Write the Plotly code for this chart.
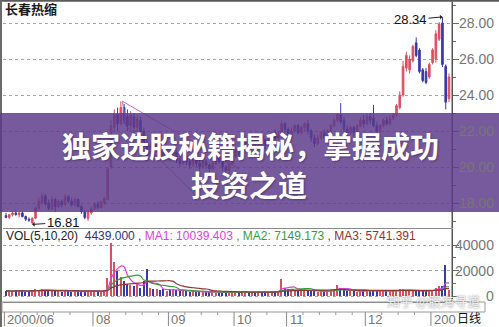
import numpy as np
import pandas as pd
import plotly.graph_objects as go

# ---- daily bars of 长春热缩 (2000/06 - 2001/01) ----
opens = [17.30, 17.20, 17.35, 17.45, 17.35, 17.45, 17.25, 17.10, 16.90, 17.15,
         17.70, 18.00, 18.40, 18.00, 17.70, 18.20, 17.80, 18.10, 17.90, 18.35,
         18.10, 17.90, 18.20, 17.80, 17.50, 17.15, 17.45, 17.70, 17.95, 17.75,
         18.00, 18.20, 20.00, 22.20, 22.90, 22.40, 23.30, 22.80, 22.30, 22.80,
         22.20, 22.60, 22.00, 21.30, 20.70, 21.20, 20.90, 21.30, 21.00, 20.60,
         20.90, 20.50, 20.80, 20.40, 20.20, 20.60, 20.30, 20.10, 20.40, 20.20,
         20.00, 20.30, 20.10, 19.90, 20.20, 20.50, 20.30, 20.00, 19.80, 20.20,
         20.60, 20.90, 20.70, 21.10, 21.40, 21.10, 21.50, 21.30, 21.70, 21.50,
         21.20, 21.60, 21.90, 21.60, 21.80, 22.40, 22.10, 21.70, 22.00, 22.30,
         21.90, 22.20, 22.40, 22.00, 21.60, 21.30, 21.60, 21.90, 21.60, 22.00,
         22.30, 22.60, 22.90, 22.60, 22.10, 21.90, 22.20, 21.90, 22.30, 22.60,
         22.40, 22.80, 22.70, 22.30, 22.00, 22.30, 22.60, 22.40, 22.70, 22.90,
         23.30, 24.00, 25.50, 25.40, 25.90, 26.90, 26.50, 25.40, 25.30, 25.00,
         25.80, 26.00, 27.10, 28.00, 25.60, 23.80]
highs = [17.45, 17.40, 17.55, 17.60, 17.50, 17.55, 17.30, 17.20, 17.20, 17.80,
         18.30, 18.55, 18.50, 18.20, 18.40, 18.30, 18.20, 18.20, 18.50, 18.45,
         18.30, 18.30, 18.25, 17.90, 17.60, 17.60, 17.80, 18.05, 18.10, 18.15,
         18.35, 20.00, 22.60, 23.20, 23.30, 23.65, 23.50, 23.20, 23.10, 23.00,
         22.90, 22.80, 22.20, 21.50, 21.40, 21.50, 21.60, 21.40, 21.10, 21.10,
         21.00, 21.00, 20.90, 20.60, 20.80, 20.70, 20.50, 20.60, 20.50, 20.40,
         20.50, 20.40, 20.20, 20.40, 20.60, 20.70, 20.40, 20.10, 20.30, 20.80,
         21.00, 21.10, 21.20, 21.60, 21.50, 21.70, 21.80, 21.90, 21.90, 21.60,
         21.80, 22.00, 22.10, 22.00, 22.60, 22.50, 22.20, 22.20, 22.40, 22.40,
         22.30, 22.50, 22.60, 22.10, 21.80, 21.80, 22.00, 22.10, 22.10, 22.40,
         22.70, 23.00, 23.55, 22.80, 22.30, 22.30, 22.30, 22.40, 22.80, 22.90,
         23.00, 23.00, 23.45, 22.50, 22.40, 22.70, 22.80, 22.90, 23.00, 23.50,
         24.20, 25.90, 26.40, 26.20, 26.80, 27.20, 26.60, 25.50, 25.50, 25.80,
         26.60, 27.60, 28.05, 28.34, 25.70, 25.20]
lows = [17.15, 17.10, 17.25, 17.30, 17.20, 17.20, 17.00, 16.95, 16.81, 17.10,
        17.60, 17.90, 17.85, 17.60, 17.60, 17.50, 17.70, 17.75, 17.85, 18.00,
        17.80, 17.80, 17.75, 17.40, 17.10, 17.00, 17.35, 17.60, 17.65, 17.70,
        17.90, 18.15, 19.90, 21.90, 22.00, 22.30, 22.40, 22.00, 22.10, 21.90,
        22.00, 21.80, 21.10, 20.30, 20.50, 20.70, 20.80, 20.80, 20.40, 20.50,
        20.30, 20.40, 20.20, 20.00, 20.10, 20.10, 19.90, 20.00, 20.00, 19.80,
        19.90, 19.90, 19.70, 19.80, 20.10, 20.20, 19.80, 19.60, 19.60, 20.10,
        20.50, 20.50, 20.60, 21.00, 20.90, 21.00, 21.20, 21.20, 21.30, 21.00,
        21.10, 21.50, 21.50, 21.50, 21.70, 21.90, 21.50, 21.60, 21.90, 21.80,
        21.80, 22.00, 21.80, 21.40, 21.10, 21.20, 21.50, 21.40, 21.50, 21.90,
        22.20, 22.50, 22.40, 21.90, 21.70, 21.80, 21.70, 21.80, 22.20, 22.20,
        22.30, 22.40, 22.20, 21.90, 21.90, 22.20, 22.30, 22.30, 22.60, 22.80,
        23.20, 23.90, 25.30, 25.20, 25.80, 26.10, 25.20, 24.70, 24.60, 24.90,
        25.70, 25.80, 27.00, 25.55, 23.20, 23.60]
closes = [17.20, 17.35, 17.45, 17.35, 17.45, 17.25, 17.10, 17.05, 17.15, 17.70,
          18.10, 18.40, 17.95, 17.70, 18.20, 17.80, 18.10, 17.90, 18.35, 18.10,
          17.90, 18.20, 17.80, 17.50, 17.20, 17.50, 17.70, 17.95, 17.75, 18.05,
          18.25, 19.90, 22.30, 22.90, 22.40, 23.30, 22.60, 22.30, 22.90, 22.20,
          22.70, 22.00, 21.30, 20.60, 21.20, 20.90, 21.30, 21.00, 20.60, 20.90,
          20.50, 20.80, 20.40, 20.20, 20.60, 20.30, 20.10, 20.40, 20.20, 20.00,
          20.30, 20.10, 19.90, 20.20, 20.50, 20.30, 20.00, 19.80, 20.20, 20.60,
          20.90, 20.70, 21.10, 21.40, 21.10, 21.50, 21.30, 21.70, 21.50, 21.20,
          21.60, 21.90, 21.60, 21.80, 22.40, 22.10, 21.70, 22.00, 22.30, 21.90,
          22.20, 22.40, 22.00, 21.60, 21.30, 21.60, 21.90, 21.60, 22.00, 22.30,
          22.60, 22.90, 22.50, 22.10, 21.90, 22.20, 21.90, 22.30, 22.60, 22.40,
          22.80, 22.60, 22.30, 22.00, 22.30, 22.60, 22.40, 22.70, 22.90, 23.40,
          24.00, 25.60, 26.20, 26.00, 26.70, 26.20, 25.30, 24.80, 24.70, 25.70,
          26.50, 27.40, 27.95, 25.70, 23.60, 25.00]
volumes = [3800, 4200, 3500, 4600, 3900, 4100, 3300, 3600, 4800, 5200,
           4700, 5600, 4300, 3900, 4500, 3700, 4100, 3500, 4800, 3600,
           3300, 3900, 3400, 3100, 3700, 4200, 3800, 3500, 3200, 3600,
           4800, 14500, 41500, 27000, 19500, 15000, 11500, 9500, 8500, 7500,
           9500, 6500, 11500, 21000, 6000, 5200, 5800, 4800, 5500, 4200,
           4600, 5200, 4500, 3800, 4200, 3600, 3300, 3900, 3100, 2900,
           3400, 3000, 2800, 3200, 2700, 3100, 2600, 2900, 3300, 3600,
           3000, 2800, 3100, 3500, 2900, 2700, 3200, 3400, 3000, 3300,
           2800, 3600, 3900, 4200, 13000, 6500, 5200, 5800, 4600, 5000,
           4200, 4800, 3900, 3600, 4100, 3400, 3800, 3500, 4300, 4700,
           5200, 8500, 6200, 4800, 4100, 3700, 3900, 3400, 4200, 3800,
           4400, 4000, 4900, 3600, 3900, 4500, 3800, 3600, 4100, 4300,
           5200, 5600, 4700, 4200, 3900, 3936.09, 4200, 3900, 4500, 4100,
           4594.715, 6500, 7500, 7758.015, 24000, 4439]

# first bar index of each month and its label on the date strip
# (the last label is cut short by the period caption)
month_starts = [0, 27, 50, 70, 86, 110, 130]
month_labels = ["2000/06", "08", "09", "10", "11", "12", "200"]

price_ticks = [18, 20, 22, 24, 26, 28]
volume_ticks = [0, 20000, 40000]
ma_windows = [5, 10, 20]

# hand-drawn trend channel after the August breakout (bar index, price)
trend_upper_x = [35.5, 71.0]
trend_upper_y = [23.65, 19.90]
trend_lower_x = [35.5, 36.5, 58.0]
trend_lower_y = [23.65, 22.30, 18.40]

banner_lines = ["独家选股秘籍揭秘，掌握成功", "投资之道"]
stock_name = "长春热缩"

# ---- page geometry (pixels) ----
W, H = 499, 327
ML, MR, MT, MB = 3, 47, 2, 25
PW, PH = W - ML - MR, H - MT - MB


def px(x):
    return (x - ML) / PW


def py(y):
    return (H - MB - y) / PH


RED = "#dc4f60"
BLUE = "#3a3aa6"
MA_COLORS = ["#e040e0", "#3c9a3c", "#8b3535"]
GRID = "#a6a6a6"
AX = "#6a6a6a"
LBL = "#767676"

idx = np.arange(len(closes))
is_up = np.array(closes) >= np.array(opens)
vol = pd.Series(volumes, dtype=float)
mas = [vol.rolling(w, min_periods=1).mean() for w in ma_windows]

fig = go.Figure()

fig.add_trace(go.Candlestick(
    x=idx, open=opens, high=highs, low=lows, close=closes,
    increasing=dict(line=dict(color=RED, width=1), fillcolor=RED),
    decreasing=dict(line=dict(color=BLUE, width=1), fillcolor=BLUE),
    whiskerwidth=0, hoverinfo="skip", xaxis="x", yaxis="y", showlegend=False))

for tx, ty in ((trend_upper_x, trend_upper_y), (trend_lower_x, trend_lower_y)):
    fig.add_trace(go.Scatter(x=tx, y=ty, mode="lines", xaxis="x", yaxis="y",
                             line=dict(color="#cc5fc8", width=1),
                             hoverinfo="skip", showlegend=False))

fig.add_trace(go.Bar(
    x=idx, y=volumes, width=0.45, xaxis="x", yaxis="y2",
    marker=dict(color=[RED if u else BLUE for u in is_up], line=dict(width=0)),
    hoverinfo="skip", showlegend=False))

for ma, col in zip(mas, MA_COLORS):
    fig.add_trace(go.Scatter(x=idx, y=ma, mode="lines", xaxis="x", yaxis="y2",
                             line=dict(color=col, width=1.2, shape="spline"),
                             hoverinfo="skip", showlegend=False))

pad = 3 / 3.2815
fig.update_layout(
    width=W, height=H, autosize=False,
    margin=dict(l=ML, r=MR, t=MT, b=MB, pad=0),
    paper_bgcolor="white", plot_bgcolor="white",
    bargap=0, showlegend=False,
    xaxis=dict(domain=[0, 1], range=[-pad, len(closes) - 1 + pad], anchor="y2",
               showgrid=False, zeroline=False, showticklabels=False, ticks="",
               showline=True, linecolor="#7a7a7a", linewidth=1,
               rangeslider=dict(visible=False), fixedrange=True),
    yaxis=dict(domain=[py(228), 1], range=[16.611, 29.167], anchor="x",
               side="right", tickmode="array", tickvals=price_ticks,
               ticks="outside", ticklen=6, tickcolor=AX, showticklabels=False,
               showgrid=True, gridcolor=GRID, griddash="dot", gridwidth=1,
               zeroline=False, showline=True, linecolor="#555", linewidth=1,
               minor=dict(tickvals=[t + 1 for t in price_ticks[:-1]] + [17, 29],
                          ticks="outside", ticklen=3, tickcolor=AX, showgrid=False),
               fixedrange=True),
    yaxis2=dict(domain=[0, py(229)], range=[-4706, 52549], anchor="x",
                side="right", tickmode="array", tickvals=volume_ticks,
                ticks="outside", ticklen=6, tickcolor=AX, showticklabels=False,
                showgrid=True, gridcolor=GRID, griddash="dot", gridwidth=1,
                zeroline=False, showline=True, linecolor="#555", linewidth=1,
                minor=dict(tickvals=[10000, 30000], ticks="outside", ticklen=3,
                           tickcolor=AX, showgrid=False),
                fixedrange=True),
)

shapes = []
# window frame: dark top and left edges, right axis rule, panel divider
shapes.append(dict(type="line", xref="paper", yref="paper", x0=px(0), x1=px(W),
                   y0=py(0.8), y1=py(0.8), line=dict(color="#5a5a5a", width=2)))
shapes.append(dict(type="line", xref="paper", yref="paper", x0=px(1), x1=px(1),
                   y0=py(0), y1=py(H), line=dict(color="#6a6a6a", width=2)))
shapes.append(dict(type="line", xref="paper", yref="paper", x0=1, x1=1,
                   y0=py(0), y1=0, line=dict(color="#555", width=1)))
shapes.append(dict(type="line", xref="paper", yref="paper", x0=0, x1=1,
                   y0=py(228.5), y1=py(228.5), line=dict(color="#8a8a8a", width=1)))
# date strip box
shapes.append(dict(type="rect", xref="paper", yref="paper", x0=px(2), x1=px(485),
                   y0=py(312), y1=py(302), line=dict(color="#9a9a9a", width=1)))
# month ticks and weekly minor ticks on the date strip
n = len(closes)
for k, ms in enumerate(month_starts):
    shapes.append(dict(type="line", xref="x", yref="paper", x0=ms - 0.5, x1=ms - 0.5,
                       y0=py(326), y1=py(312), line=dict(color="#888", width=1)))
    nxt = month_starts[k + 1] if k + 1 < len(month_starts) else n
    for m in range(ms + 5, nxt - 2, 5):
        shapes.append(dict(type="line", xref="x", yref="paper", x0=m - 0.5, x1=m - 0.5,
                           y0=py(315), y1=py(312), line=dict(color="#999", width=1)))
# translucent headline banner across the chart
shapes.append(dict(type="rect", xref="paper", yref="paper", x0=px(0), x1=px(W),
                   y0=py(212), y1=py(113), fillcolor="rgba(92,58,138,0.84)",
                   line=dict(width=0), layer="above"))
fig.update_layout(shapes=shapes)

ann = []
ann.append(dict(xref="paper", yref="paper", x=px(3), y=py(8), xanchor="left",
                yanchor="middle", showarrow=False, text=stock_name,
                font=dict(family="Noto Sans CJK SC", size=13, color="#1a1a1a", weight="bold")))

# price axis labels
for v in price_ticks:
    ann.append(dict(xref="paper", yref="y", x=px(496), y=v, xanchor="right",
                    yanchor="middle", showarrow=False, text=f"{v:.2f}",
                    font=dict(family="Liberation Sans, Arial", size=14, color=LBL)))
for v in volume_ticks:
    ann.append(dict(xref="paper", yref="y2", x=px(496), y=v, xanchor="right",
                    yanchor="middle", showarrow=False, text=f"{v}",
                    font=dict(family="Liberation Sans, Arial", size=14, color=LBL)))

# high / low markers
hi_i = int(np.argmax(highs))
lo_i = int(np.argmin(lows))
ann.append(dict(xref="x", yref="y", x=hi_i, y=highs[hi_i], text=f"{highs[hi_i]:.2f}",
                showarrow=True, ax=-32, ay=3, arrowhead=1, arrowsize=0.8, arrowwidth=1,
                arrowcolor="#222", standoff=0,
                font=dict(family="Liberation Sans, Arial", size=13, color="#111")))
ann.append(dict(xref="x", yref="y", x=lo_i, y=lows[lo_i], text=f"{lows[lo_i]:.2f}",
                showarrow=True, ax=31, ay=-2, arrowhead=1, arrowsize=0.8, arrowwidth=1,
                arrowcolor="#222", standoff=0,
                font=dict(family="Liberation Sans, Arial", size=13, color="#111")))

# volume legend line
vol_text = (f"VOL({','.join(str(w) for w in ma_windows)})  "
            f"<span style='color:#33337a'>{volumes[-1]:.3f} ,</span> "
            f"<span style='color:{MA_COLORS[0]}'>MA1: {mas[0].iloc[-1]:.3f}</span> "
            f"<span style='color:{MA_COLORS[1]}'>, MA2: {mas[1].iloc[-1]:.3f}</span> "
            f"<span style='color:{MA_COLORS[2]}'>, MA3: {mas[2].iloc[-1]:.3f}</span>")
ann.append(dict(xref="paper", yref="paper", x=px(4), y=py(236), xanchor="left",
                yanchor="middle", showarrow=False, text=vol_text,
                font=dict(family="Liberation Sans, Arial", size=12, color="#222")))

# month labels
for ms, lab in zip(month_starts, month_labels):
    ann.append(dict(xref="x", yref="paper", x=ms - 0.5, y=py(319.5), xanchor="left",
                    xshift=1, yanchor="middle", showarrow=False, text=lab,
                    font=dict(family="Liberation Sans, Arial", size=13, color=LBL)))
ann.append(dict(xref="paper", yref="paper", x=px(455), y=py(318), xanchor="left",
                yanchor="middle", showarrow=False, text="日线",
                font=dict(family="Noto Sans CJK SC", size=12, color="#111")))
ann.append(dict(xref="paper", yref="paper", x=px(433), y=py(300), xanchor="center",
                yanchor="middle", showarrow=False, text="知乎 @股海寻道",
                font=dict(family="Noto Sans CJK SC", size=13,
                          color="rgba(255,255,255,0.85)",
                          shadow="0px 0px 2px rgba(80,80,80,0.9)")))

# banner headline
for (bx, by), line in zip(((250, 145), (249, 184)), banner_lines):
    ann.append(dict(xref="paper", yref="paper", x=px(bx), y=py(by), xanchor="center",
                    yanchor="middle", showarrow=False, text=line,
                    font=dict(family="Noto Sans CJK SC", size=29, color="white",
                              weight="bold", shadow="1px 1px 2px rgba(40,20,60,0.45)")))
fig.update_layout(annotations=ann)

fig.write_html("out.html")
